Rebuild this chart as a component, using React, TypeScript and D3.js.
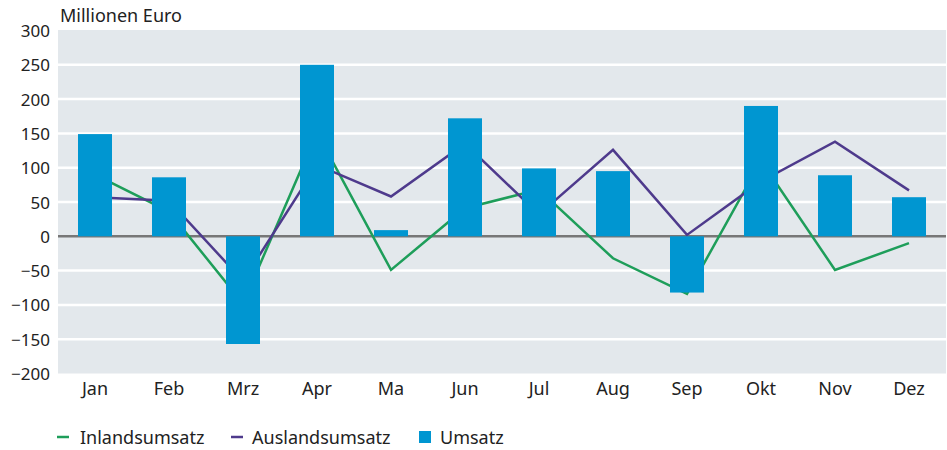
import React from "react";
import * as d3 from "d3";

const months = ["Jan", "Feb", "Mrz", "Apr", "Ma", "Jun", "Jul", "Aug", "Sep", "Okt", "Nov", "Dez"];
const umsatz = [149, 86, -157, 250, 9, 172, 99, 95, -82, 190, 89, 57];
const inland = [90, 36, -98, 151, -49, 41, 68, -32, -84, 110, -49, -10];
const ausland = [57, 52, -65, 104, 58, 135, 32, 126, 2, 80, 138, 67];
const yTicks = [300, 250, 200, 150, 100, 50, 0, -50, -100, -150, -200];
const legendItems = ["Inlandsumsatz", "Auslandsumsatz", "Umsatz"];

const W = 947;
const H = 450;
const left = 58;
const right = 946;
const top = 30.5;
const bottom = 373.5;

const FONT = "'Noto Sans', 'Open Sans', sans-serif";
const C_BAR = "#0096d1";
const C_GREEN = "#1e9e5a";
const C_PURPLE = "#4e3a8c";
const C_BG = "#e3e8ec";

export default function App() {
  const x = d3.scaleBand<string>().domain(months).range([left, right]).padding(0);
  const y = d3.scaleLinear().domain([-200, 300]).range([bottom, top]);
  const cx = (m: string) => (x(m) as number) + x.bandwidth() / 2;
  const barW = 34;

  const line = d3
    .line<number>()
    .x((_, i) => cx(months[i]))
    .y((d) => y(d));

  return (
    <svg width={W} height={H} style={{ position: "absolute", left: 0, top: 0, background: "#fff" }}>
      <rect x={left} y={top - 0.5} width={right - left} height={bottom - top + 0.5} fill={C_BG} />
      {yTicks.map((t) => (
        <g key={t}>
          {t !== 0 && t !== 300 && t !== -200 && (
            <line x1={left} x2={right} y1={y(t)} y2={y(t)} stroke="#fff" strokeWidth={2.5} />
          )}
          <text
            x={50}
            y={y(t)}
            textAnchor="end"
            dominantBaseline="central"
            fontFamily={FONT}
            fontSize={17}
            fill="#222"
          >
            {t < 0 ? "\u2212" + Math.abs(t) : t}
          </text>
        </g>
      ))}
      <line x1={left} x2={right} y1={y(0)} y2={y(0)} stroke="#777" strokeWidth={2.5} />
      <path d={line(inland) || ""} fill="none" stroke={C_GREEN} strokeWidth={2.5} />
      <path d={line(ausland) || ""} fill="none" stroke={C_PURPLE} strokeWidth={2.5} />
      {umsatz.map((v, i) => (
        <rect
          key={months[i]}
          x={cx(months[i]) - barW / 2}
          y={y(Math.max(0, v))}
          width={barW}
          height={Math.abs(y(v) - y(0))}
          fill={C_BAR}
        />
      ))}
      {months.map((m) => (
        <text key={m} x={cx(m)} y={394.5} textAnchor="middle" fontFamily={FONT} fontSize={18} fill="#222">
          {m}
        </text>
      ))}
      <text x={60} y={22} fontFamily={FONT} fontSize={18} fill="#222">
        Millionen Euro
      </text>
      <g fontFamily={FONT} fontSize={18} fill="#222">
        <line x1={57} x2={69} y1={437} y2={437} stroke={C_GREEN} strokeWidth={2.5} />
        <text x={80} y={444}>{legendItems[0]}</text>
        <line x1={231} x2={243} y1={437} y2={437} stroke={C_PURPLE} strokeWidth={2.5} />
        <text x={252} y={444}>{legendItems[1]}</text>
        <rect x={419} y={431} width={12} height={12} fill={C_BAR} />
        <text x={440} y={444}>{legendItems[2]}</text>
      </g>
    </svg>
  );
}
